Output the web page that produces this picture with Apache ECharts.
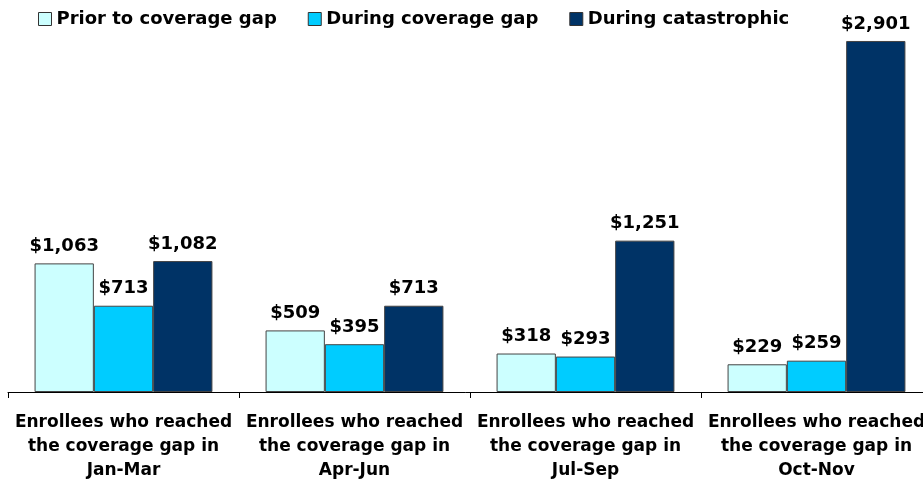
<!DOCTYPE html>
<html>
<head>
<meta charset="utf-8">
<script src="https://cdn.jsdelivr.net/npm/echarts@6/dist/echarts.min.js"></script>
<style>
  html, body { margin: 0; padding: 0; background: #fff; }
  #chart { width: 923px; height: 481px; }
</style>
</head>
<body>
<div id="chart"></div>
<script>
const categories = [
  "Enrollees who reached\nthe coverage gap in\nJan-Mar",
  "Enrollees who reached\nthe coverage gap in\nApr-Jun",
  "Enrollees who reached\nthe coverage gap in\nJul-Sep",
  "Enrollees who reached\nthe coverage gap in\nOct-Nov"
]
const series_names = ["Prior to coverage gap", "During coverage gap", "During catastrophic"]
const prior_values = [1063, 509, 318, 229]
const during_values = [713, 395, 293, 259]
const catastrophic_values = [1082, 713, 1251, 2901]
const colors = ["#CCFFFF", "#00CCFF", "#003366"]

const font = "'DejaVu Sans', Verdana, sans-serif"

function make_series(name, values, idx) {
  return {
    name: name,
    type: 'bar',
    data: values,
    barGap: '0%',
    barCategoryGap: '23%',
    itemStyle: {
      color: colors[idx],
      borderColor: '#444',
      borderWidth: 1
    },
    label: {
      show: true,
      position: 'top',
      distance: 8,
      color: '#000',
      fontFamily: font,
      fontWeight: 'bold',
      fontSize: 18,
      formatter: function (p) {
        return '$' + p.value.toLocaleString('en-US')
      }
    }
  }
}

var myChart = echarts.init(document.getElementById('chart'))
var option = {
  animation: false,
  legend: {
    top: 5,
    left: 33,
    itemWidth: 13,
    itemHeight: 13,
    itemGap: 31,
    icon: 'rect',
    textStyle: {
      fontFamily: font,
      fontWeight: 'bold',
      fontSize: 18,
      color: '#000'
    },
    itemStyle: { borderColor: '#333', borderWidth: 1 },
    data: series_names
  },
  grid: {
    left: 8,
    top: 29,
    width: 924,
    bottom: 89,
    outerBoundsMode: 'none'
  },
  xAxis: {
    type: 'category',
    data: categories,
    axisLine: { lineStyle: { color: '#000', width: 1 } },
    axisTick: { show: true, length: 6, lineStyle: { color: '#000' } },
    axisLabel: {
      interval: 0,
      margin: 19,
      color: '#000',
      fontFamily: font,
      fontWeight: 'bold',
      fontSize: 17,
      lineHeight: 24,
      align: 'center'
    }
  },
  yAxis: {
    type: 'value',
    min: 0,
    max: 3000,
    show: false,
    splitLine: { show: false }
  },
  series: [
    make_series(series_names[0], prior_values, 0),
    make_series(series_names[1], during_values, 1),
    make_series(series_names[2], catastrophic_values, 2)
  ]
}
option && myChart.setOption(option)
</script>
</body>
</html>
